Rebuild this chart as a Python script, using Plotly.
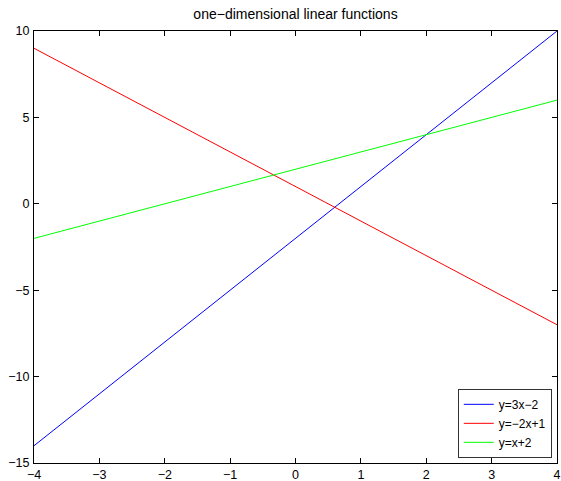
import plotly.graph_objects as go

# Endpoints of each linear function over the plotted domain
x_vals = [-4, 4]
y_blue = [-14, 10]   # y = 3x - 2
y_red = [9, -7]      # y = -2x + 1
y_green = [-2, 6]    # y = x + 2

series_names = ["y=3x\u22122", "y=\u22122x+1", "y=x+2"]
x_ticks = [-4, -3, -2, -1, 0, 1, 2, 3, 4]
y_ticks = [-15, -10, -5, 0, 5, 10]

font_family = "Liberation Sans, Arial, sans-serif"

fig = go.Figure()
for ys, name, color in [(y_blue, series_names[0], "#0000ff"),
                        (y_red, series_names[1], "#ff0000"),
                        (y_green, series_names[2], "#00ff00")]:
    fig.add_trace(go.Scatter(x=x_vals, y=ys, mode="lines", name=name,
                             line=dict(color=color, width=1)))

axis_style = dict(showgrid=False, zeroline=False, showline=True,
                  linecolor="black", linewidth=1, mirror="ticks",
                  ticks="inside", ticklen=5, tickcolor="black",
                  automargin=False,
                  tickfont=dict(family=font_family, size=12.5, color="black"))

fig.update_xaxes(range=[-4, 4], tickvals=x_ticks, ticklabelstandoff=0,
                 **axis_style)
fig.update_yaxes(range=[-15, 10], tickvals=y_ticks, ticklabelstandoff=1,
                 **axis_style)

fig.update_layout(
    width=561, height=481,
    margin=dict(l=34, r=4, t=31, b=18, autoexpand=False),
    paper_bgcolor="white", plot_bgcolor="white",
    title=dict(text="one\u2212dimensional linear functions",
               x=(34 + 557) / 2 / 561, xanchor="center",
               y=1 - 14 / 481, yanchor="middle",
               font=dict(family=font_family, size=14, color="black")),
    legend=dict(x=0.99, xanchor="right", y=0.012, yanchor="bottom",
                bgcolor="white", bordercolor="#333333", borderwidth=1,
                font=dict(family=font_family, size=12, color="black"),
                tracegroupgap=0, itemwidth=30),
    showlegend=True,
)

fig.write_html("out.html")
